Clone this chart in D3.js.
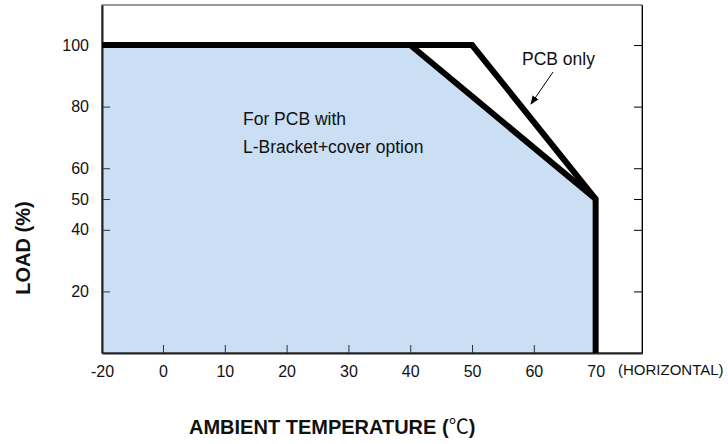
<!DOCTYPE html>
<html>
<head>
<meta charset="utf-8">
<script src="https://cdn.jsdelivr.net/npm/d3@7"></script>
<style>
  body { margin: 0; background: #fff; }
  svg { display: block; font-family: "Liberation Sans", Arial, sans-serif; }
</style>
</head>
<body>
<div id="chart"></div>
<script>
// Derating curve data (temperature in C, load in %)
const xTicks = [-20, 0, 10, 20, 30, 40, 50, 60, 70];
const yTicks = [20, 40, 50, 60, 80, 100];
const pcbOnlyTemp = [-20, 50, 70, 70];
const pcbOnlyLoad = [100, 100, 50, 0];
const bracketTemp = [-20, 40, 70];
const bracketLoad = [100, 100, 50];

const margin = { top: 5, right: 86, bottom: 91, left: 102 };
const width = 728 - margin.left - margin.right;
const height = 444 - margin.top - margin.bottom;

const svgRoot = d3
  .select("#chart")
  .append("svg")
  .attr("width", 728)
  .attr("height", 444);

const svg = svgRoot
  .append("g")
  .attr("transform", `translate(${margin.left},${margin.top})`);

// axis is broken: -20 sits one step left of 0
const xScale = d3.scaleLinear().domain([-20, 0, 77.5]).range([0, 61, width]);
const yScale = d3.scaleLinear().domain([0, 113]).range([height, 0]);

// Filled area under the L-bracket curve
const areaPts = bracketTemp.map((t, i) => [t, bracketLoad[i]]);
areaPts.push([70, 0]);
areaPts.unshift([-20, 0]);
svg
  .append("path")
  .attr("d", d3.line().x((d) => xScale(d[0])).y((d) => yScale(d[1]))(areaPts))
  .attr("fill", "#cadff3");

// Frame
svg
  .append("rect")
  .attr("width", width)
  .attr("height", height)
  .attr("fill", "none")
  .attr("stroke", "#333")
  .attr("stroke-width", 1);

// Axes with inward ticks
const plain = (d) => String(d);
const xAxis = d3.axisBottom(xScale).tickValues(xTicks).tickFormat(plain).tickSizeInner(-8).tickSizeOuter(0).tickPadding(14);
const yAxis = d3.axisLeft(yScale).tickValues(yTicks).tickFormat(plain).tickSizeInner(-8).tickSizeOuter(0).tickPadding(13);

const gx = svg.append("g").attr("transform", `translate(0,${height})`).call(xAxis);
const gy = svg.append("g").call(yAxis);
svg
  .append("g")
  .attr("transform", `translate(${width},0)`)
  .call(d3.axisRight(yScale).tickValues(yTicks).tickSizeInner(-8).tickSizeOuter(0).tickFormat(""));

[gx, gy].forEach((g) => {
  g.select(".domain").attr("stroke", "#222").attr("stroke-width", 2);
  g.selectAll(".tick line").attr("stroke", "#333");
  g.selectAll(".tick text")
    .attr("font-size", 16)
    .attr("fill", "#111")
    .attr("font-family", "Liberation Sans, Arial, sans-serif");
});
gx.selectAll(".tick").filter((d) => d === -20).select("line").remove();
gx.selectAll(".tick text").attr("dy", "0.6em");

// Curves
const curve = d3.line().x((d) => xScale(d[0])).y((d) => yScale(d[1]));
svg
  .append("path")
  .attr("d", curve(pcbOnlyTemp.map((t, i) => [t, pcbOnlyLoad[i]])))
  .attr("fill", "none")
  .attr("stroke", "#000")
  .attr("stroke-width", 6)
  .attr("stroke-linejoin", "miter");
svg
  .append("path")
  .attr("d", curve(bracketTemp.map((t, i) => [t, bracketLoad[i]])))
  .attr("fill", "none")
  .attr("stroke", "#000")
  .attr("stroke-width", 6)
  .attr("stroke-linejoin", "miter");

// Labels inside the plot
svg
  .append("text")
  .attr("x", 141)
  .attr("y", 120)
  .attr("font-size", 17.5)
  .attr("fill", "#111")
  .text("For PCB with");
svg
  .append("text")
  .attr("x", 141)
  .attr("y", 148)
  .attr("font-size", 17.5)
  .attr("fill", "#111")
  .text("L-Bracket+cover option");
svg
  .append("text")
  .attr("x", 420)
  .attr("y", 60)
  .attr("font-size", 17.5)
  .attr("fill", "#111")
  .text("PCB only");

// Arrow pointing at the PCB only line
svgRoot
  .append("defs")
  .append("marker")
  .attr("id", "arrow")
  .attr("viewBox", "0 0 10 10")
  .attr("refX", 9)
  .attr("refY", 5)
  .attr("markerWidth", 9)
  .attr("markerHeight", 9)
  .attr("markerUnits", "userSpaceOnUse")
  .attr("orient", "auto")
  .append("path")
  .attr("d", "M0,1 L10,5 L0,9 Z")
  .attr("fill", "#000");
svg
  .append("line")
  .attr("x1", 451)
  .attr("y1", 67)
  .attr("x2", 429)
  .attr("y2", 99)
  .attr("stroke", "#000")
  .attr("stroke-width", 1)
  .attr("marker-end", "url(#arrow)");

// Extra x label
svg
  .append("text")
  .attr("x", 516)
  .attr("y", height + 22)
  .attr("font-size", 15)
  .attr("fill", "#111")
  .text("(HORIZONTAL)");

// Axis titles
svgRoot
  .append("text")
  .attr("transform", "translate(30,248) rotate(-90)")
  .attr("text-anchor", "middle")
  .attr("font-size", 20)
  .attr("font-weight", "bold")
  .attr("fill", "#111")
  .text("LOAD (%)");

const title = svgRoot
  .append("text")
  .attr("x", 189)
  .attr("y", 434)
  .attr("font-size", 20)
  .attr("font-weight", "bold")
  .attr("fill", "#111");
title.append("tspan").text("AMBIENT TEMPERATURE (");
title
  .append("tspan")
  .attr("font-family", "Noto Sans CJK SC")
  .attr("font-weight", "normal")
  .text("℃");
title.append("tspan").text(")");
</script>
</body>
</html>
